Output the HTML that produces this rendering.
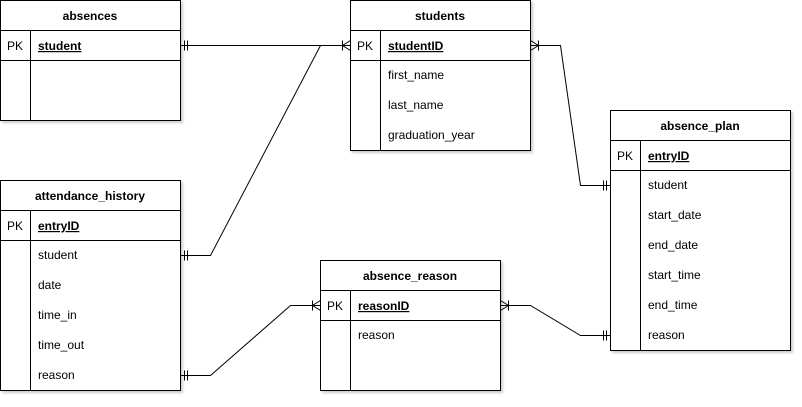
<!DOCTYPE html>
<html><head><meta charset="utf-8"><style>
body{margin:0;background:#fff;}
svg text{font-family:"Liberation Sans",Arial,sans-serif;font-size:12px;fill:#000;}
.h{font-weight:bold;text-anchor:middle;}
</style></head><body>
<svg width="802" height="402" xmlns="http://www.w3.org/2000/svg">
<defs><filter id="s" x="-5%" y="-5%" width="115%" height="115%"><feDropShadow dx="2" dy="2" stdDeviation="1.2" flood-color="#000" flood-opacity="0.2"/></filter></defs>
<g fill="#fff" stroke="#000" stroke-width="1" filter="url(#s)">
<rect x="0.5" y="0.5" width="180" height="120"/>
<rect x="350.5" y="0.5" width="180" height="150"/>
<rect x="0.5" y="180.5" width="180" height="210"/>
<rect x="320.5" y="260.5" width="180" height="130"/>
<rect x="610.5" y="110.5" width="180" height="240"/>
</g>
<g stroke="#000" stroke-width="1" fill="none">
<!-- absences -->
<path d="M0.5 30.5H180.5M0.5 60.5H180.5M30.5 30.5V120.5"/>
<!-- students -->
<path d="M350.5 30.5H530.5M350.5 60.5H530.5M380.5 30.5V150.5"/>
<!-- attendance -->
<path d="M0.5 210.5H180.5M0.5 240.5H180.5M30.5 210.5V390.5"/>
<!-- reason -->
<path d="M320.5 290.5H500.5M320.5 320.5H500.5M350.5 290.5V390.5"/>
<!-- plan -->
<path d="M610.5 140.5H790.5M610.5 170.5H790.5M640.5 140.5V350.5"/>
<!-- connectors -->
<path d="M180.5 45.5H350.5"/>
<path d="M180.5 255.5H210.5L320.5 45.5"/>
<path d="M530.5 45.5H560.5L580.5 185.5H610.5"/>
<path d="M180.5 375.5H210.5L290.5 305.5H320.5"/>
<path d="M500.5 305.5H530.5L580.5 335.5H610.5"/>
<!-- mandatory one marks -->
<path d="M184.5 40.5V50.5M187.5 40.5V50.5"/>
<path d="M184.5 250.5V260.5M187.5 250.5V260.5"/>
<path d="M184.5 370.5V380.5M187.5 370.5V380.5"/>
<path d="M603.5 180.5V190.5M606.5 180.5V190.5"/>
<path d="M603.5 330.5V340.5M606.5 330.5V340.5"/>
<!-- crow's feet (one or many) -->
<path d="M350.5 40.5L342.5 45.5L350.5 50.5M342.5 40.5V50.5"/>
<path d="M530.5 40.5L538.5 45.5L530.5 50.5M538.5 40.5V50.5"/>
<path d="M320.5 300.5L312.5 305.5L320.5 310.5M312.5 300.5V310.5"/>
<path d="M500.5 300.5L508.5 305.5L500.5 310.5M508.5 300.5V310.5"/>
</g>
<text class="h" x="90" y="20">absences</text>
<text x="7" y="50">PK</text><text x="38" y="50" font-weight="bold" text-decoration="underline">student</text>

<text class="h" x="440" y="20">students</text>
<text x="357" y="50">PK</text><text x="388" y="50" font-weight="bold" text-decoration="underline">studentID</text>
<text x="388" y="79">first_name</text>
<text x="388" y="109">last_name</text>
<text x="388" y="139">graduation_year</text>

<text class="h" x="90" y="200">attendance_history</text>
<text x="7" y="230">PK</text><text x="38" y="230" font-weight="bold" text-decoration="underline">entryID</text>
<text x="38" y="259">student</text>
<text x="38" y="289">date</text>
<text x="38" y="319">time_in</text>
<text x="38" y="349">time_out</text>
<text x="38" y="379">reason</text>

<text class="h" x="410" y="280">absence_reason</text>
<text x="327" y="310">PK</text><text x="358" y="310" font-weight="bold" text-decoration="underline">reasonID</text>
<text x="358" y="339">reason</text>

<text class="h" x="700" y="130">absence_plan</text>
<text x="617" y="160">PK</text><text x="648" y="160" font-weight="bold" text-decoration="underline">entryID</text>
<text x="648" y="189">student</text>
<text x="648" y="219">start_date</text>
<text x="648" y="249">end_date</text>
<text x="648" y="279">start_time</text>
<text x="648" y="309">end_time</text>
<text x="648" y="339">reason</text>
</svg>
</body></html>
